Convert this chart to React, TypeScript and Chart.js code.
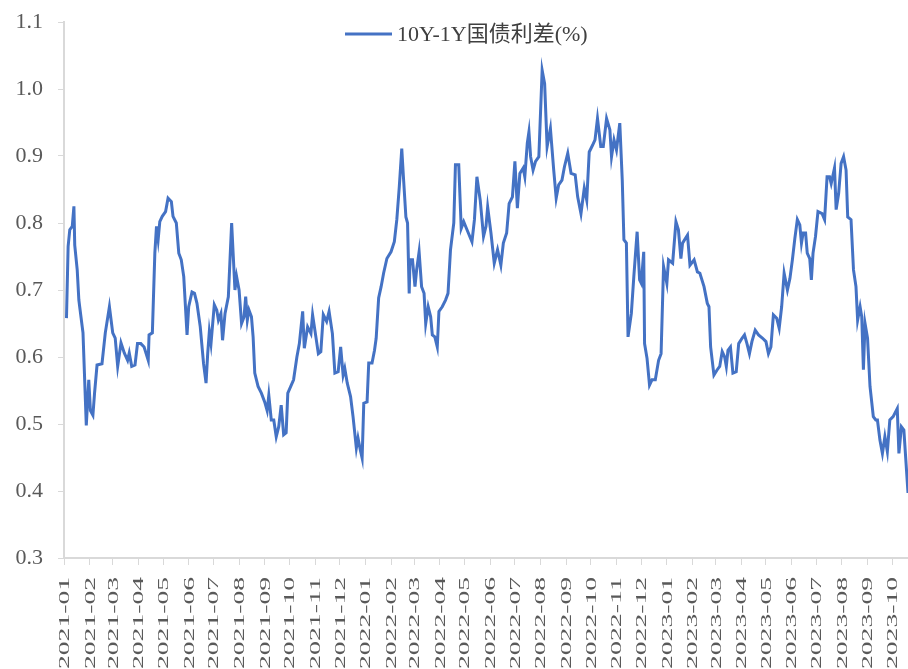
import React, { useEffect, useRef } from "react";
import { Chart, registerables } from "chart.js";

Chart.register(...registerables);

const SERIES_LABEL = "10Y-1Y国债利差(%)";
const LINE_COLOR = "#4472C4";

const dates2021 = [
  "2021-01-04","2021-01-06","2021-01-08","2021-01-11","2021-01-13","2021-01-14","2021-01-17","2021-01-19","2021-01-20","2021-01-24",
  "2021-01-28","2021-01-31","2021-02-02","2021-02-05","2021-02-07","2021-02-10","2021-02-16","2021-02-20","2021-02-25","2021-03-01",
  "2021-03-04","2021-03-07","2021-03-11","2021-03-15","2021-03-19","2021-03-21","2021-03-24","2021-03-28","2021-03-31","2021-04-04",
  "2021-04-08","2021-04-13","2021-04-14","2021-04-18","2021-04-21","2021-04-23","2021-04-25","2021-04-27","2021-04-30","2021-05-04",
  "2021-05-07","2021-05-11","2021-05-13","2021-05-17","2021-05-20","2021-05-23","2021-05-26","2021-05-30","2021-06-01","2021-06-05",
  "2021-06-08","2021-06-11","2021-06-15","2021-06-19","2021-06-22","2021-06-24","2021-06-26","2021-06-28","2021-07-02","2021-07-05",
  "2021-07-07","2021-07-10","2021-07-12","2021-07-15","2021-07-19","2021-07-23","2021-07-25","2021-07-27","2021-07-29","2021-08-01",
  "2021-08-04","2021-08-07","2021-08-09","2021-08-11","2021-08-13","2021-08-16","2021-08-18","2021-08-20","2021-08-24","2021-08-28",
  "2021-09-01","2021-09-04","2021-09-06","2021-09-09","2021-09-12","2021-09-15","2021-09-18","2021-09-21","2021-09-24","2021-09-27",
  "2021-09-29","2021-10-06","2021-10-10","2021-10-13","2021-10-17","2021-10-19","2021-10-23","2021-10-27","2021-10-29","2021-11-02",
  "2021-11-05","2021-11-08","2021-11-11","2021-11-15","2021-11-18","2021-11-22","2021-11-25","2021-11-29","2021-12-02","2021-12-05",
  "2021-12-07","2021-12-10","2021-12-14","2021-12-17","2021-12-21","2021-12-23","2021-12-26","2021-12-28","2021-12-30",
];
const values2021 = [
  0.658,0.765,0.79,0.795,0.825,0.767,0.73,0.685,0.675,0.636,
  0.498,0.566,0.52,0.513,0.546,0.588,0.59,0.636,0.675,0.636,
  0.628,0.586,0.621,0.606,0.595,0.606,0.586,0.588,0.62,0.62,
  0.615,0.595,0.633,0.636,0.755,0.795,0.775,0.802,0.81,0.817,
  0.837,0.832,0.81,0.80,0.755,0.745,0.72,0.633,0.675,0.697,
  0.695,0.68,0.645,0.59,0.561,0.605,0.638,0.62,0.678,0.67,
  0.655,0.665,0.625,0.665,0.69,0.80,0.75,0.70,0.72,0.70,
  0.65,0.66,0.69,0.655,0.67,0.66,0.63,0.576,0.556,0.546,
  0.533,0.52,0.543,0.506,0.506,0.481,0.496,0.528,0.484,0.487,
  0.546,0.566,0.60,0.62,0.668,0.613,0.645,0.635,0.663,0.63,
  0.605,0.608,0.663,0.653,0.668,0.635,0.576,0.578,0.615,0.573,
  0.583,0.561,0.541,0.511,0.464,0.479,0.46,0.449,0.531,
];

const dates2022 = [
  "2022-01-03","2022-01-05","2022-01-09","2022-01-12","2022-01-14","2022-01-17","2022-01-20","2022-01-23","2022-01-27","2022-02-01",
  "2022-02-05","2022-02-08","2022-02-11","2022-02-14","2022-02-16","2022-02-19","2022-02-21","2022-02-23","2022-02-24","2022-02-27",
  "2022-03-02","2022-03-04","2022-03-07","2022-03-10","2022-03-13","2022-03-15","2022-03-18","2022-03-21","2022-03-23","2022-03-26",
  "2022-03-29","2022-03-31","2022-04-04","2022-04-08","2022-04-11","2022-04-14","2022-04-18","2022-04-20","2022-04-24","2022-04-27",
  "2022-04-30","2022-05-04","2022-05-10","2022-05-13","2022-05-16","2022-05-20","2022-05-24","2022-05-27","2022-05-29","2022-06-02",
  "2022-06-06","2022-06-10","2022-06-14","2022-06-17","2022-06-21","2022-06-24","2022-06-28","2022-07-01","2022-07-04","2022-07-07",
  "2022-07-11","2022-07-13","2022-07-16","2022-07-18","2022-07-20","2022-07-23","2022-07-26","2022-07-30","2022-08-01","2022-08-03",
  "2022-08-06","2022-08-09","2022-08-13","2022-08-17","2022-08-20","2022-08-23","2022-08-27","2022-08-30","2022-09-03","2022-09-07",
  "2022-09-12","2022-09-15","2022-09-19","2022-09-23","2022-09-26","2022-09-29","2022-10-03","2022-10-06","2022-10-09","2022-10-13",
  "2022-10-16","2022-10-20","2022-10-24","2022-10-26","2022-10-29","2022-11-01","2022-11-05","2022-11-08","2022-11-10","2022-11-13",
  "2022-11-15","2022-11-19","2022-11-22","2022-11-26","2022-11-29","2022-12-01","2022-12-04","2022-12-05","2022-12-08","2022-12-11",
  "2022-12-14","2022-12-18","2022-12-22","2022-12-25","2022-12-28",
];
const values2022 = [
  0.533,0.591,0.591,0.61,0.628,0.688,0.705,0.725,0.747,0.757,
  0.772,0.805,0.854,0.911,0.869,0.809,0.80,0.695,0.745,0.745,
  0.705,0.73,0.757,0.705,0.695,0.65,0.675,0.66,0.633,0.63,
  0.615,0.668,0.675,0.685,0.695,0.76,0.80,0.887,0.887,0.792,
  0.802,0.79,0.772,0.805,0.869,0.834,0.78,0.795,0.824,0.785,
  0.74,0.76,0.737,0.77,0.785,0.829,0.839,0.892,0.822,0.874,
  0.882,0.869,0.919,0.936,0.899,0.879,0.892,0.899,0.964,1.028,
  1.008,0.914,0.941,0.879,0.837,0.857,0.864,0.884,0.904,0.874,
  0.872,0.839,0.814,0.852,0.834,0.906,0.916,0.924,0.956,0.914,
  0.914,0.956,0.939,0.899,0.924,0.909,0.949,0.864,0.775,0.77,
  0.63,0.665,0.72,0.787,0.715,0.71,0.757,0.62,0.598,0.558,
  0.566,0.566,0.595,0.605,0.735,
];

const dates2023 = [
  "2023-01-01","2023-01-03","2023-01-08","2023-01-12","2023-01-15","2023-01-18","2023-01-20","2023-01-26","2023-01-29","2023-02-03",
  "2023-02-07","2023-02-10","2023-02-15","2023-02-19","2023-02-21","2023-02-23","2023-02-27","2023-03-03","2023-03-06","2023-03-09",
  "2023-03-12","2023-03-14","2023-03-16","2023-03-19","2023-03-22","2023-03-26","2023-03-29","2023-04-02","2023-04-05","2023-04-08",
  "2023-04-11","2023-04-14","2023-04-18","2023-04-22","2023-04-27","2023-05-01","2023-05-04","2023-05-07","2023-05-10","2023-05-14",
  "2023-05-17","2023-05-20","2023-05-23","2023-05-27","2023-05-30","2023-06-02","2023-06-05","2023-06-08","2023-06-11","2023-06-13",
  "2023-06-15","2023-06-18","2023-06-20","2023-06-23","2023-06-25","2023-06-27","2023-06-30","2023-07-03","2023-07-08","2023-07-11",
  "2023-07-14","2023-07-17","2023-07-19","2023-07-23","2023-07-25","2023-07-28","2023-07-31","2023-08-03","2023-08-06","2023-08-08",
  "2023-08-12","2023-08-15","2023-08-18","2023-08-20","2023-08-23","2023-08-25","2023-08-27","2023-08-29","2023-09-01","2023-09-04",
  "2023-09-08","2023-09-11","2023-09-13","2023-09-16","2023-09-19","2023-09-22","2023-09-25","2023-09-28","2023-10-02","2023-10-07",
  "2023-10-09","2023-10-12","2023-10-15","2023-10-20",
];
const values2023 = [
  0.71,0.745,0.74,0.802,0.79,0.747,0.77,0.782,0.737,0.745,
  0.727,0.725,0.705,0.68,0.675,0.615,0.573,0.581,0.586,0.608,
  0.60,0.586,0.61,0.615,0.576,0.578,0.62,0.628,0.633,0.62,
  0.605,0.623,0.64,0.633,0.628,0.623,0.605,0.615,0.663,0.658,
  0.643,0.675,0.725,0.70,0.717,0.745,0.777,0.805,0.797,0.77,
  0.785,0.785,0.755,0.747,0.715,0.755,0.78,0.817,0.814,0.805,
  0.869,0.869,0.859,0.882,0.82,0.844,0.889,0.899,0.879,0.809,
  0.805,0.73,0.705,0.655,0.675,0.66,0.581,0.65,0.628,0.556,
  0.511,0.506,0.506,0.476,0.456,0.481,0.459,0.506,0.511,0.523,
  0.456,0.496,0.491,0.397,
];

const monthLabels = [
  "2021-01","2021-02","2021-03","2021-04","2021-05","2021-06","2021-07","2021-08","2021-09","2021-10","2021-11","2021-12",
  "2022-01","2022-02","2022-03","2022-04","2022-05","2022-06","2022-07","2022-08","2022-09","2022-10","2022-11","2022-12",
  "2023-01","2023-02","2023-03","2023-04","2023-05","2023-06","2023-07","2023-08","2023-09","2023-10",
];

const yTicks = [0.3, 0.4, 0.5, 0.6, 0.7, 0.8, 0.9, 1.0, 1.1];

const AXIS_START = "2021-01-01";
const AXIS_END = "2023-10-20";

function dayIndex(s: string): number {
  const [y, m, d] = s.split("-").map(Number);
  const [y0, m0, d0] = AXIS_START.split("-").map(Number);
  return (Date.UTC(y, m - 1, d) - Date.UTC(y0, m0 - 1, d0)) / 86400000;
}

const SERIF = '"Liberation Serif", "Times New Roman", "Noto Sans CJK SC", serif';

const legendPlugin = {
  id: "customLegend",
  afterDraw(chart: any) {
    const ctx = chart.ctx;
    ctx.save();
    ctx.strokeStyle = LINE_COLOR;
    ctx.lineWidth = 3;
    ctx.beginPath();
    ctx.moveTo(345, 34);
    ctx.lineTo(392, 34);
    ctx.stroke();
    ctx.font = `22px ${SERIF}`;
    ctx.fillStyle = "#404040";
    ctx.textAlign = "left";
    ctx.textBaseline = "middle";
    ctx.fillText(SERIES_LABEL, 397, 35);
    ctx.restore();
  },
};

const xLabelPlugin = {
  id: "xLabels",
  afterDraw(chart: any) {
    const ctx = chart.ctx;
    const xs = chart.scales.x;
    const top = chart.chartArea.bottom + 19;
    ctx.save();
    ctx.font = `15px ${SERIF}`;
    ctx.fillStyle = "#595959";
    ctx.textAlign = "right";
    ctx.textBaseline = "middle";
    monthLabels.forEach((lbl) => {
      const x = xs.getPixelForValue(dayIndex(lbl + "-01"));
      const w = ctx.measureText(lbl).width;
      const sx = 92 / w;
      ctx.save();
      ctx.translate(x + 1, top);
      ctx.rotate(-Math.PI / 2);
      ctx.scale(sx, 1);
      ctx.fillText(lbl, 0, 0);
      ctx.restore();
    });
    ctx.restore();
  },
};

export default function App() {
  const canvasRef = useRef<HTMLCanvasElement | null>(null);

  useEffect(() => {
    if (!canvasRef.current) return;
    const allDates = [...dates2021, ...dates2022, ...dates2023];
    const allValues = [...values2021, ...values2022, ...values2023];
    const points = allDates.map((d, i) => ({ x: dayIndex(d), y: allValues[i] }));

    const chart = new Chart(canvasRef.current, {
      type: "line",
      data: {
        datasets: [
          {
            label: SERIES_LABEL,
            data: points,
            borderColor: LINE_COLOR,
            backgroundColor: LINE_COLOR,
            borderWidth: 3,
            pointRadius: 0,
            tension: 0,
          },
        ],
      },
      options: {
        animation: false,
        responsive: false,
        devicePixelRatio: 1,
        layout: { padding: { top: 22, right: 0, bottom: 0, left: 0 } },
        plugins: {
          legend: { display: false },
          tooltip: { enabled: false },
        },
        scales: {
          x: {
            type: "linear",
            min: dayIndex(AXIS_START),
            max: dayIndex(AXIS_END),
            afterBuildTicks: (scale: any) => {
              scale.ticks = monthLabels.map((l) => ({ value: dayIndex(l + "-01") }));
            },
            afterFit: (scale: any) => {
              scale.height = 111;
              scale.paddingLeft = 0;
              scale.paddingRight = 0;
            },
            ticks: { display: false },
            grid: {
              drawOnChartArea: false,
              drawTicks: true,
              tickLength: 7,
              color: "#d9d9d9",
              lineWidth: 1,
            },
            border: { display: true, color: "#d9d9d9", width: 2 },
          },
          y: {
            min: 0.3,
            max: 1.1,
            afterBuildTicks: (scale: any) => {
              scale.ticks = yTicks.map((v) => ({ value: v }));
            },
            afterFit: (scale: any) => {
              scale.width = 64;
              scale.paddingTop = 0;
              scale.paddingBottom = 0;
            },
            ticks: {
              padding: 15,
              color: "#595959",
              font: { family: SERIF, size: 22 },
              callback: (v: any) => Number(v).toFixed(1),
            },
            grid: {
              drawOnChartArea: false,
              drawTicks: true,
              tickLength: 6,
              color: "#d9d9d9",
              lineWidth: 1,
            },
            border: { display: true, color: "#d9d9d9", width: 2 },
          },
        },
      },
      plugins: [legendPlugin, xLabelPlugin],
    });
    return () => chart.destroy();
  }, []);

  return (
    <div style={{ position: "fixed", left: 0, top: 0, width: 908, height: 669, background: "#ffffff" }}>
      <canvas ref={canvasRef} width={908} height={669} style={{ display: "block", width: 908, height: 669 }} />
    </div>
  );
}
